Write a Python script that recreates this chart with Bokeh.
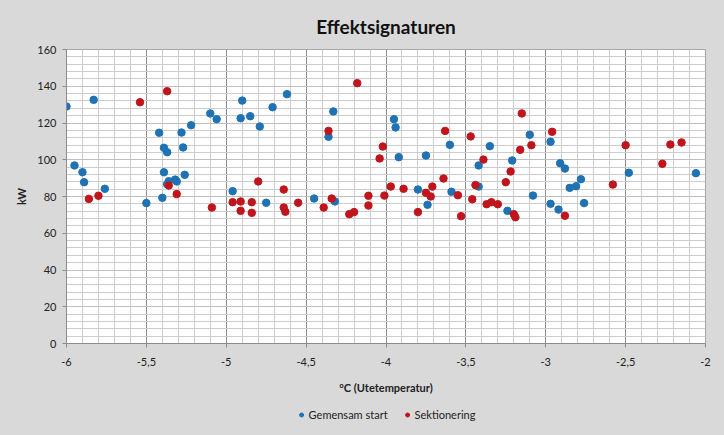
import numpy as np
from bokeh.plotting import figure
from bokeh.layouts import column
from bokeh.models import FixedTicker, Legend, LegendItem, Range1d
from bokeh.embed import file_html
from bokeh.resources import INLINE

blue_x = [-6.00, -5.83, -5.95, -5.90, -5.89, -5.76, -5.50, -5.40, -5.42, -5.39, -5.37, -5.39, -5.36, -5.37,
          -5.32, -5.31, -5.26, -5.28, -5.27, -5.22, -5.10, -5.06, -4.90, -4.91, -4.85, -4.79, -4.71, -4.62,
          -4.33, -4.36, -4.96, -4.75, -4.45, -4.32, -3.95, -3.94, -3.92, -3.75, -3.60, -3.35, -3.10, -3.42,
          -3.21, -3.80, -3.74, -3.59, -3.42, -3.24, -3.08, -2.97, -2.91, -2.88, -2.78, -2.81, -2.85, -2.97,
          -2.92, -2.76, -2.48, -2.06]
blue_y = [129.0, 132.6, 96.9, 93.2, 87.8, 84.2, 76.4, 79.3, 114.7, 106.5, 104.1, 93.2, 88.3, 86.7,
          89.2, 88.2, 91.8, 114.8, 106.7, 118.8, 125.2, 122.1, 132.2, 122.6, 123.7, 118.1, 128.6, 135.7,
          126.3, 112.5, 82.9, 76.6, 78.9, 77.3, 122.1, 117.6, 101.4, 102.3, 108.1, 107.4, 113.6, 96.9,
          99.6, 83.8, 75.5, 82.6, 85.4, 72.2, 80.5, 109.8, 98.1, 95.2, 89.4, 85.6, 84.7, 76.0,
          72.9, 76.4, 92.9, 92.7]

red_x = [-5.86, -5.80, -5.54, -5.37, -5.36, -5.31, -5.09, -4.18, -4.36, -4.02, -4.04, -4.80, -4.64, -4.96,
         -4.91, -4.84, -4.91, -4.84, -4.64, -4.63, -4.55, -4.39, -4.34, -4.23, -4.20, -4.11, -4.11, -4.01,
         -3.97, -3.89, -3.80, -3.75, -3.72, -3.71, -3.63, -3.64, -3.55, -3.53, -3.47, -3.46, -3.44, -3.39,
         -3.37, -3.34, -3.30, -3.25, -3.22, -3.20, -3.19, -3.16, -3.15, -3.09, -2.96, -2.88, -2.50, -2.58,
         -2.27, -2.22, -2.15]
red_y = [78.7, 80.4, 131.3, 137.3, 86.0, 81.3, 74.0, 141.7, 115.7, 107.2, 100.7, 88.2, 83.8, 76.9,
         77.3, 76.9, 72.2, 71.1, 74.0, 71.7, 76.6, 74.0, 78.9, 70.4, 71.5, 80.4, 75.1, 80.5,
         85.4, 84.2, 71.5, 82.0, 80.0, 85.4, 115.7, 89.8, 80.7, 69.3, 112.7, 78.5, 86.2, 100.1,
         75.8, 76.9, 75.8, 87.8, 93.6, 70.4, 68.7, 105.4, 125.2, 107.9, 115.2, 69.5, 107.9, 86.5,
         97.8, 108.3, 109.4]

x_ticks = [-6, -5.5, -5, -4.5, -4, -3.5, -3, -2.5, -2]
x_tick_labels = ["-6", "-5,5", "-5", "-4,5", "-4", "-3,5", "-3", "-2,5", "-2"]
y_ticks = [0, 20, 40, 60, 80, 100, 120, 140, 160]

title = "Effektsignaturen"
x_label = "°C (Utetemperatur)"
y_label = "kW"
series_names = ["Gemensam start", "Sektionering"]

BLUE = "#1F72B4"
RED = "#C0151C"
BG = "#d9d9d9"
FONT = "Lato"

p = figure(width=724, height=403, output_backend="svg", toolbar_location=None,
           x_range=Range1d(-6, -2), y_range=Range1d(0, 160),
           min_border_left=66, min_border_right=19, min_border_top=49, min_border_bottom=60)

p.background_fill_color = "white"
p.border_fill_color = BG
p.outline_line_color = "#a6a6a6"

p.title.text = title
p.title.align = "center"
p.title.text_font = FONT
p.title.text_font_size = "19px"
p.title.text_font_style = "bold"
p.title.text_color = "#111111"
p.title.standoff = 24

xminor = [round(v, 2) for v in np.arange(-6, -1.99, 0.1)]
yminor = list(range(0, 161, 4))
p.xaxis.ticker = FixedTicker(ticks=x_ticks, minor_ticks=xminor)
p.yaxis.ticker = FixedTicker(ticks=y_ticks, minor_ticks=yminor)
p.xaxis.major_label_overrides = {t: l for t, l in zip(x_ticks, x_tick_labels)}

for ax in (p.xaxis[0], p.yaxis[0]):
    ax.axis_line_color = "#8c8c8c"
    ax.major_tick_line_color = "#8c8c8c"
    ax.major_tick_out = 4
    ax.major_tick_in = 0
    ax.minor_tick_line_color = None
    ax.major_label_text_font = FONT
    ax.major_label_text_font_size = "11px"
    ax.major_label_text_color = "#222222"
    ax.axis_label_text_font = FONT
    ax.axis_label_text_font_size = "11px"
    ax.axis_label_text_font_style = "bold"
    ax.axis_label_text_color = "#222222"

p.xaxis.axis_label = x_label
p.yaxis.axis_label = y_label
p.xaxis.major_label_standoff = 10
p.xaxis.axis_label_standoff = 12
p.yaxis.major_label_standoff = 6
p.yaxis.axis_label_standoff = 6

p.xgrid.grid_line_color = "#8c8c8c"
p.xgrid.minor_grid_line_color = "#cccccc"
p.ygrid.grid_line_color = "#bfbfbf"
p.ygrid.minor_grid_line_color = "#cccccc"

p.scatter(blue_x, blue_y, size=7.5, fill_color=BLUE, line_color=BLUE)
p.scatter(red_x, red_y, size=7.5, fill_color=RED, line_color=RED)

# legend strip below the chart (swatch renderers sit outside the visible range)
leg = figure(width=724, height=32, output_backend="svg", toolbar_location=None,
             x_range=Range1d(0, 1), y_range=Range1d(0, 1),
             min_border_left=0, min_border_right=0, min_border_top=0, min_border_bottom=10)
leg.axis.visible = False
leg.grid.visible = False
leg.outline_line_color = None
leg.background_fill_color = BG
leg.border_fill_color = BG
lb = leg.scatter([-5], [-5], size=7, fill_color=BLUE, line_color=BLUE)
lr = leg.scatter([-5], [-5], size=7, fill_color=RED, line_color=RED)
legend = Legend(items=[LegendItem(label=series_names[0], renderers=[lb]),
                       LegendItem(label=series_names[1], renderers=[lr])],
                orientation="horizontal", location="center",
                background_fill_alpha=0, border_line_color=None,
                label_text_font=FONT, label_text_font_size="11px", label_text_color="#222222",
                glyph_width=10, glyph_height=10, spacing=14, padding=2, margin=0,
                label_standoff=3)
leg.add_layout(legend, "center")

layout = column(p, leg, spacing=0, styles={"background-color": BG})
open("out.html", "w").write(file_html(layout, INLINE))
